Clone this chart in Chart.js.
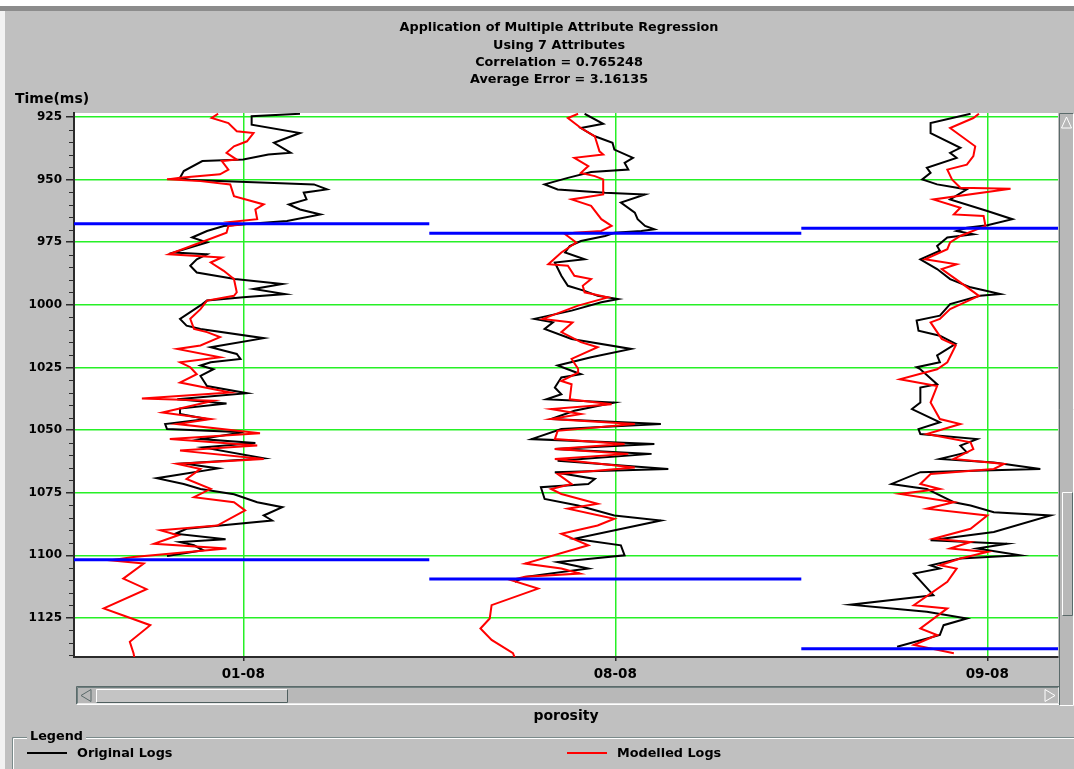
<!DOCTYPE html>
<html>
<head>
<meta charset="utf-8">
<title>Multiple Attribute Regression</title>
<script src="https://cdn.jsdelivr.net/npm/chart.js@4.4.1/dist/chart.umd.min.js"></script>
<style>
  html, body { margin: 0; padding: 0; background: #c0c0c0; overflow: hidden; }
  #wrap { position: relative; width: 1074px; height: 769px; }
  canvas { display: block; }
</style>
</head>
<body>
<div id="wrap"><canvas id="chart" width="1074" height="769"></canvas></div>
<script>
// ---- Chart text ----
const titleLines = [
  'Application of Multiple Attribute Regression',
  'Using 7 Attributes',
  'Correlation = 0.765248',
  'Average Error = 3.16135'
];
const wellNames = ['01-08', '08-08', '09-08'];
// Position of each well's marker line on the porosity axis (each track spans 40 units)
const wellTickValues = [20, 60, 100];
const timeTickValues = [925, 950, 975, 1000, 1025, 1050, 1075, 1100, 1125];

// ---- Zone boundaries per well (ms) ----
const zoneTops = [967.6, 971.4, 969.4];
const zoneBases = [1101.8, 1109.5, 1137.3];

// ---- Logs: [time (ms), porosity within the well track] ----
const log0108Original = [
  [923.7, 26.1], [924.7, 20.9], [928.1, 20.9], [931.4, 26.1], [935.3, 23.3], [939.3, 25.1],
  [940.0, 22.7], [942.0, 20.0], [942.6, 15.6], [946.6, 13.6], [949.3, 13.2], [950.2, 14.5],
  [951.3, 23.3], [951.9, 27.6], [953.9, 29.0], [955.2, 26.5], [957.9, 26.8], [959.9, 24.9],
  [961.9, 26.1], [963.9, 28.3], [966.5, 24.7], [967.8, 20.0], [968.5, 17.9], [970.5, 16.1],
  [973.1, 14.5], [975.1, 16.1], [979.1, 12.5], [979.8, 16.1], [981.8, 15.0], [984.4, 14.3],
  [987.1, 15.0], [989.7, 19.1], [991.7, 24.2], [993.7, 21.1], [995.7, 24.5], [997.0, 20.0],
  [998.3, 16.1], [999.7, 15.6], [1005.6, 13.2], [1008.3, 13.9], [1009.6, 15.4], [1013.3, 22.2],
  [1016.9, 16.5], [1019.6, 19.3], [1021.6, 19.7], [1022.9, 16.5], [1024.2, 15.4], [1025.7, 16.8],
  [1028.4, 15.4], [1032.4, 16.1], [1035.3, 20.4], [1037.7, 12.9], [1039.4, 18.2], [1041.4, 13.2],
  [1043.6, 13.2], [1045.6, 16.1], [1047.6, 11.6], [1049.6, 11.8], [1050.9, 20.0], [1053.6, 15.4],
  [1055.2, 21.3], [1056.9, 15.7], [1061.3, 22.2], [1063.3, 13.6], [1065.3, 17.3], [1069.2, 10.7],
  [1071.5, 13.6], [1073.5, 15.4], [1075.6, 19.0], [1078.8, 21.5], [1080.8, 24.2], [1084.1, 22.2],
  [1086.1, 23.1], [1089.4, 13.9], [1091.4, 12.7], [1093.6, 18.1], [1094.7, 13.2], [1096.0, 14.7],
  [1098.0, 15.7], [1100.3, 11.8]
];
const log0108Modelled = [
  [923.7, 17.3], [925.4, 16.6], [927.4, 18.4], [930.7, 19.3], [931.4, 21.1], [934.7, 20.4],
  [936.7, 19.0], [939.3, 18.2], [942.0, 19.3], [942.6, 17.7], [946.0, 18.4], [947.9, 17.5],
  [949.3, 13.2], [949.9, 11.8], [950.6, 15.4], [951.9, 18.6], [956.6, 19.0], [959.9, 22.2],
  [961.9, 21.3], [965.8, 21.5], [966.9, 18.6], [967.8, 20.0], [968.5, 18.4], [971.2, 18.2],
  [975.1, 15.4], [979.8, 12.0], [981.1, 17.7], [983.1, 16.5], [986.4, 17.9], [989.7, 19.0],
  [995.0, 19.3], [996.4, 19.0], [998.3, 16.1], [1001.7, 15.4], [1005.6, 14.3], [1009.6, 14.7],
  [1010.9, 16.1], [1012.9, 17.5], [1016.2, 15.4], [1017.6, 12.9], [1020.9, 17.5], [1022.9, 13.2],
  [1024.9, 14.3], [1027.7, 15.0], [1031.0, 13.2], [1035.0, 18.6], [1037.4, 9.1], [1038.3, 16.8],
  [1043.0, 11.3], [1045.6, 16.5], [1047.6, 12.9], [1051.3, 21.8], [1053.6, 12.1], [1056.2, 21.5],
  [1058.2, 13.2], [1061.5, 22.2], [1063.5, 12.9], [1065.5, 15.4], [1069.5, 13.9], [1073.5, 16.5],
  [1076.8, 14.7], [1078.8, 19.0], [1082.1, 20.2], [1088.1, 17.2], [1090.0, 11.1], [1092.0, 13.0],
  [1095.4, 10.4], [1097.3, 18.2], [1100.7, 8.2], [1102.0, 5.7], [1103.3, 9.3], [1109.3, 7.1],
  [1113.5, 9.6], [1121.2, 5.0], [1127.9, 10.0], [1134.5, 7.8], [1139.1, 8.2], [1141.0, 8.3]
];
const log0808Original = [
  [923.7, 16.7], [927.7, 18.7], [929.4, 16.3], [932.7, 17.8], [935.3, 19.7], [938.0, 19.9],
  [941.3, 21.9], [943.3, 21.0], [946.0, 21.4], [947.0, 17.4], [949.3, 14.9], [951.9, 12.4],
  [953.9, 13.8], [955.2, 18.9], [955.9, 23.2], [959.2, 20.6], [963.2, 22.1], [965.8, 22.4],
  [968.5, 23.2], [969.8, 24.2], [970.5, 22.8], [971.2, 19.9], [972.5, 18.9], [974.5, 16.3],
  [976.5, 15.1], [979.1, 14.6], [981.8, 16.7], [983.1, 13.5], [988.4, 14.2], [992.4, 14.9],
  [994.4, 16.7], [996.4, 18.1], [997.7, 20.3], [999.0, 18.5], [1002.3, 15.3], [1005.6, 11.3],
  [1007.0, 13.3], [1009.6, 12.4], [1013.6, 15.3], [1017.6, 21.7], [1020.9, 17.4], [1024.2, 13.8],
  [1027.7, 16.3], [1029.0, 14.2], [1033.0, 13.5], [1035.7, 14.2], [1037.7, 12.6], [1039.0, 19.9],
  [1042.3, 15.6], [1045.6, 13.1], [1047.6, 24.9], [1049.6, 14.2], [1053.6, 11.0], [1055.6, 24.2],
  [1057.6, 13.5], [1059.5, 23.9], [1062.2, 13.8], [1065.5, 25.7], [1066.8, 13.5], [1069.5, 17.8],
  [1071.5, 17.1], [1072.8, 12.0], [1077.5, 12.4], [1080.1, 16.0], [1084.1, 19.9], [1086.1, 24.9],
  [1093.4, 15.6], [1096.0, 20.6], [1100.0, 21.0], [1102.7, 13.8], [1105.3, 17.1], [1108.6, 10.3],
  [1110.6, 9.2]
];
const log0808Modelled = [
  [923.7, 16.0], [925.4, 14.9], [929.4, 16.3], [932.7, 17.8], [938.7, 18.3], [940.0, 18.7],
  [941.3, 15.6], [944.6, 17.1], [947.3, 16.3], [948.6, 17.8], [949.9, 18.7], [955.9, 18.7],
  [957.9, 15.3], [960.5, 17.4], [965.8, 18.5], [968.5, 19.6], [970.5, 18.5], [971.2, 15.6],
  [971.8, 14.6], [975.1, 15.8], [979.1, 14.2], [983.8, 12.8], [984.4, 14.9], [988.4, 15.6],
  [989.7, 17.4], [992.4, 16.5], [995.0, 16.7], [997.0, 19.2], [1000.3, 16.0], [1005.6, 12.2],
  [1007.0, 15.4], [1010.9, 14.2], [1014.9, 16.3], [1016.9, 18.1], [1021.6, 15.3], [1025.5, 16.0],
  [1027.1, 16.0], [1030.4, 14.2], [1031.7, 15.3], [1037.7, 15.1], [1039.7, 19.6], [1041.6, 13.1],
  [1043.6, 16.3], [1045.6, 13.1], [1047.6, 22.1], [1050.3, 13.8], [1053.6, 13.5], [1055.6, 21.0],
  [1057.6, 13.5], [1059.5, 21.4], [1061.5, 13.5], [1064.9, 22.1], [1067.5, 13.8], [1071.5, 15.3],
  [1073.5, 13.1], [1075.5, 14.2], [1079.4, 18.1], [1081.4, 14.9], [1085.4, 19.9], [1088.1, 18.1],
  [1091.4, 14.2], [1096.0, 17.1], [1103.3, 10.3], [1105.3, 14.2], [1107.3, 16.2], [1108.6, 10.3],
  [1109.9, 8.8], [1113.3, 11.7], [1119.9, 6.7], [1125.2, 6.5], [1129.2, 5.5], [1133.8, 6.7],
  [1139.1, 9.0], [1141.0, 9.2]
];
const log0908Original = [
  [923.7, 18.2], [927.4, 13.9], [931.4, 13.9], [937.3, 17.1], [939.3, 16.0], [941.3, 16.7],
  [945.3, 13.5], [947.3, 13.9], [949.9, 13.0], [951.9, 14.6], [953.9, 17.8], [957.9, 16.0],
  [962.5, 20.0], [965.8, 22.7], [968.2, 20.0], [969.2, 17.8], [970.5, 16.7], [971.8, 18.5],
  [973.1, 15.7], [976.5, 14.6], [978.4, 14.9], [981.8, 12.8], [985.7, 14.6], [989.7, 16.0],
  [993.0, 18.2], [995.7, 21.4], [996.4, 19.2], [999.7, 16.0], [1004.3, 14.9], [1006.3, 12.4],
  [1010.3, 12.6], [1012.3, 14.9], [1015.6, 16.6], [1020.2, 14.6], [1022.9, 14.9], [1024.9, 12.4],
  [1025.7, 12.8], [1031.7, 14.6], [1033.0, 12.8], [1039.0, 12.8], [1041.6, 11.9], [1046.9, 14.9],
  [1049.6, 12.6], [1051.6, 12.8], [1053.6, 18.9], [1056.2, 17.1], [1058.9, 17.8], [1061.5, 14.9],
  [1062.9, 20.7], [1065.5, 25.7], [1066.2, 18.5], [1066.8, 12.8], [1071.5, 9.7], [1072.8, 12.1],
  [1073.5, 13.5], [1078.8, 16.4], [1080.1, 18.2], [1082.8, 20.7], [1084.1, 26.8], [1090.7, 20.7],
  [1094.0, 13.9], [1095.4, 22.1], [1097.3, 18.9], [1100.0, 23.5], [1101.3, 17.1], [1104.0, 13.9],
  [1105.3, 14.9], [1107.3, 12.1], [1115.9, 14.2], [1119.7, 5.3], [1122.5, 13.5], [1125.2, 17.8],
  [1127.9, 15.3], [1131.8, 14.9], [1136.5, 10.3]
];
const log0908Modelled = [
  [923.7, 19.1], [925.4, 18.5], [929.4, 16.0], [936.7, 18.7], [940.6, 18.5], [944.0, 17.8],
  [946.0, 15.7], [949.9, 16.2], [953.2, 17.1], [953.6, 22.5], [957.9, 14.2], [961.2, 17.1],
  [963.9, 16.4], [964.5, 19.6], [968.5, 19.8], [972.5, 17.1], [975.1, 16.0], [977.8, 15.7],
  [981.8, 13.3], [983.8, 16.7], [985.7, 15.1], [991.0, 17.1], [996.4, 19.1], [1001.7, 16.0],
  [1005.6, 14.9], [1007.0, 13.9], [1013.6, 15.1], [1016.2, 16.6], [1022.9, 15.7], [1025.7, 14.6],
  [1029.7, 10.6], [1032.4, 14.6], [1039.0, 13.9], [1045.6, 14.9], [1047.6, 17.1], [1051.6, 13.5],
  [1054.9, 18.2], [1057.6, 18.5], [1061.5, 16.4], [1063.5, 21.8], [1065.5, 20.7], [1067.5, 13.9],
  [1071.5, 12.8], [1073.5, 14.9], [1075.5, 10.6], [1078.8, 16.4], [1081.4, 13.5], [1084.1, 20.0],
  [1089.4, 18.2], [1093.4, 14.2], [1094.7, 18.2], [1097.3, 16.0], [1098.7, 20.0], [1101.3, 17.1],
  [1104.0, 14.9], [1105.3, 16.7], [1110.6, 15.7], [1119.9, 12.1], [1121.2, 15.7], [1129.2, 12.8],
  [1131.8, 14.6], [1135.8, 12.1], [1139.1, 16.4]
];

// ---- Styling ----
const TRACK_SPAN = 40;
const GRID_GREEN = '#26f026';
const AXIS_DARK = '#2b2b2b';
const FONT_FAMILY = '"DejaVu Sans", "Liberation Sans", sans-serif';
const yTickFont = { family: FONT_FAMILY, size: 12, weight: 'bold' };
const xTickFont = { family: FONT_FAMILY, size: 13.5, weight: 'bold' };
const captionFont = { family: FONT_FAMILY, size: 14, weight: 'bold' };

const wells = [
  { original: log0108Original, modelled: log0108Modelled },
  { original: log0808Original, modelled: log0808Modelled },
  { original: log0908Original, modelled: log0908Modelled }
];

function trackPoints(log, track) {
  return log.map(([t, p]) => ({ x: track * TRACK_SPAN + p, y: t }));
}
function zoneLine(time, track) {
  return [{ x: track * TRACK_SPAN, y: time }, { x: (track + 1) * TRACK_SPAN, y: time }];
}

const datasets = [];
wells.forEach((w, k) => {
  datasets.push({ label: 'Original Logs', data: trackPoints(w.original, k),
    borderColor: '#000000', borderWidth: 2, order: 3 });
  datasets.push({ label: 'Modelled Logs', data: trackPoints(w.modelled, k),
    borderColor: '#ff0000', borderWidth: 2, order: 2 });
  datasets.push({ label: 'Zone top', data: zoneLine(zoneTops[k], k),
    borderColor: '#0000ff', borderWidth: 3, order: 1 });
  datasets.push({ label: 'Zone base', data: zoneLine(zoneBases[k], k),
    borderColor: '#0000ff', borderWidth: 3, order: 1 });
});
datasets.forEach(d => { d.pointRadius = 0; d.tension = 0; d.fill = false; d.borderJoinStyle = 'miter'; });

// Window furniture: background, title, minor ticks, scrollbars and legend box
function bevelRect(ctx, x, y, w, h, light, dark) {
  ctx.strokeStyle = light;
  ctx.beginPath(); ctx.moveTo(x + 0.5, y + h - 0.5); ctx.lineTo(x + 0.5, y + 0.5); ctx.lineTo(x + w - 0.5, y + 0.5); ctx.stroke();
  ctx.strokeStyle = dark;
  ctx.beginPath(); ctx.moveTo(x + w - 0.5, y + 0.5); ctx.lineTo(x + w - 0.5, y + h - 0.5); ctx.lineTo(x + 0.5, y + h - 0.5); ctx.stroke();
}

const windowFrame = {
  id: 'windowFrame',
  beforeDraw(chart) {
    const { ctx, chartArea: a, width, height } = chart;
    ctx.save();
    ctx.fillStyle = '#c0c0c0';
    ctx.fillRect(0, 0, width, height);
    ctx.fillStyle = '#ffffff';
    ctx.fillRect(0, 0, width, 6);
    ctx.fillStyle = '#8c8c8c';
    ctx.fillRect(0, 6, width, 5);
    ctx.fillStyle = '#f2f2f2';
    ctx.fillRect(0, 11, 5, height - 11);
    ctx.fillStyle = '#ffffff';
    ctx.fillRect(a.left, a.top, a.right - a.left, a.bottom - a.top);
    ctx.restore();
  },
  afterDraw(chart) {
    const { ctx, chartArea: a, scales } = chart;
    const ys = scales.y;
    ctx.save();

    // title
    ctx.fillStyle = '#000';
    ctx.font = 'bold 12.8px ' + FONT_FAMILY;
    ctx.textAlign = 'center';
    ctx.textBaseline = 'middle';
    titleLines.forEach((line, i) => ctx.fillText(line, 559, 28 + i * 17.3));

    // vertical axis caption
    ctx.font = 'bold 14px ' + FONT_FAMILY;
    ctx.textAlign = 'left';
    ctx.fillText('Time(ms)', 15, 99);

    // minor time ticks every 5 ms
    ctx.strokeStyle = AXIS_DARK;
    ctx.lineWidth = 1;
    for (let t = Math.ceil(ys.min / 5) * 5; t <= ys.max; t += 5) {
      if (t % 25 === 0) continue;
      const y = Math.round(ys.getPixelForValue(t)) + 0.5;
      ctx.beginPath(); ctx.moveTo(a.left - 5, y); ctx.lineTo(a.left, y); ctx.stroke();
    }

    // horizontal scrollbar
    ctx.fillStyle = '#b8b8b8';
    ctx.fillRect(76, 686, 984, 19);
    bevelRect(ctx, 76, 686, 984, 19, '#5a6a6a', '#ffffff');
    bevelRect(ctx, 77, 687, 982, 17, '#6f7f7f', '#e8e8e8');
    ctx.fillStyle = '#c4c4c4';
    ctx.fillRect(96, 689, 192, 14);
    bevelRect(ctx, 96, 689, 192, 14, '#ffffff', '#4f5f5f');
    ctx.strokeStyle = '#5a6a6a';
    ctx.beginPath(); ctx.moveTo(91, 689.5); ctx.lineTo(81, 695.5); ctx.lineTo(91, 701.5); ctx.closePath(); ctx.stroke();
    ctx.strokeStyle = '#ffffff';
    ctx.beginPath(); ctx.moveTo(1045, 689.5); ctx.lineTo(1055, 695.5); ctx.lineTo(1045, 701.5); ctx.closePath(); ctx.stroke();

    // vertical scrollbar
    ctx.fillStyle = '#b8b8b8';
    ctx.fillRect(1059, 113, 15, 593);
    bevelRect(ctx, 1059, 113, 15, 593, '#5a6a6a', '#ffffff');
    bevelRect(ctx, 1062, 492, 11, 124, '#ffffff', '#5a6a6a');
    ctx.strokeStyle = '#ffffff';
    ctx.beginPath(); ctx.moveTo(1061.5, 128); ctx.lineTo(1066.5, 117); ctx.lineTo(1071.5, 128); ctx.closePath(); ctx.stroke();

    // legend group box
    ctx.strokeStyle = '#7a8a8a';
    ctx.beginPath();
    ctx.moveTo(12.5, 769); ctx.lineTo(12.5, 737.5); ctx.lineTo(27, 737.5);
    ctx.moveTo(86, 737.5); ctx.lineTo(1074, 737.5);
    ctx.stroke();
    ctx.strokeStyle = '#ffffff';
    ctx.beginPath();
    ctx.moveTo(13.5, 769); ctx.lineTo(13.5, 738.5); ctx.lineTo(27, 738.5);
    ctx.moveTo(86, 738.5); ctx.lineTo(1074, 738.5);
    ctx.stroke();
    ctx.fillStyle = '#000';
    ctx.font = 'bold 12.8px ' + FONT_FAMILY;
    ctx.fillText('Legend', 30, 737);
    const legendItems = [
      { text: 'Original Logs', color: '#000000', x: 27 },
      { text: 'Modelled Logs', color: '#ff0000', x: 567 }
    ];
    legendItems.forEach(item => {
      ctx.strokeStyle = item.color;
      ctx.lineWidth = 2;
      ctx.beginPath(); ctx.moveTo(item.x, 753); ctx.lineTo(item.x + 40, 753); ctx.stroke();
      ctx.fillStyle = '#000';
      ctx.fillText(item.text, item.x + 50, 754);
    });
    ctx.restore();
  }
};

new Chart(document.getElementById('chart'), {
  type: 'line',
  data: { datasets },
  options: {
    responsive: false,
    animation: false,
    devicePixelRatio: 1,
    layout: { padding: { top: 113, right: 16, bottom: 0, left: 0 } },
    plugins: { legend: { display: false }, title: { display: false }, tooltip: { enabled: false } },
    events: [],
    scales: {
      x: {
        type: 'linear',
        min: 1.8,
        max: 107.6,
        afterBuildTicks: s => { s.ticks = wellTickValues.map(v => ({ value: v })); },
        afterFit: s => { s.height = 112; },
        ticks: {
          callback: (v, i) => wellNames[i],
          font: xTickFont, color: '#000', padding: 5, autoSkip: false, maxRotation: 0
        },
        grid: { color: GRID_GREEN, lineWidth: 1.5, tickColor: AXIS_DARK, tickLength: 4 },
        border: { color: AXIS_DARK, width: 2 },
        title: { display: true, text: 'porosity', font: captionFont, color: '#000', padding: { top: 0, bottom: 44 } }
      },
      y: {
        type: 'linear',
        reverse: true,
        min: 923.4,
        max: 1140.6,
        afterBuildTicks: s => { s.ticks = timeTickValues.map(v => ({ value: v })); },
        afterFit: s => { s.width = 74; },
        ticks: {
          callback: v => String(v),
          font: yTickFont, color: '#000', padding: 4, autoSkip: false
        },
        grid: { color: GRID_GREEN, lineWidth: 1.5, tickColor: AXIS_DARK, tickLength: 8 },
        border: { color: AXIS_DARK, width: 2 }
      }
    }
  },
  plugins: [windowFrame]
});
</script>
</body>
</html>
